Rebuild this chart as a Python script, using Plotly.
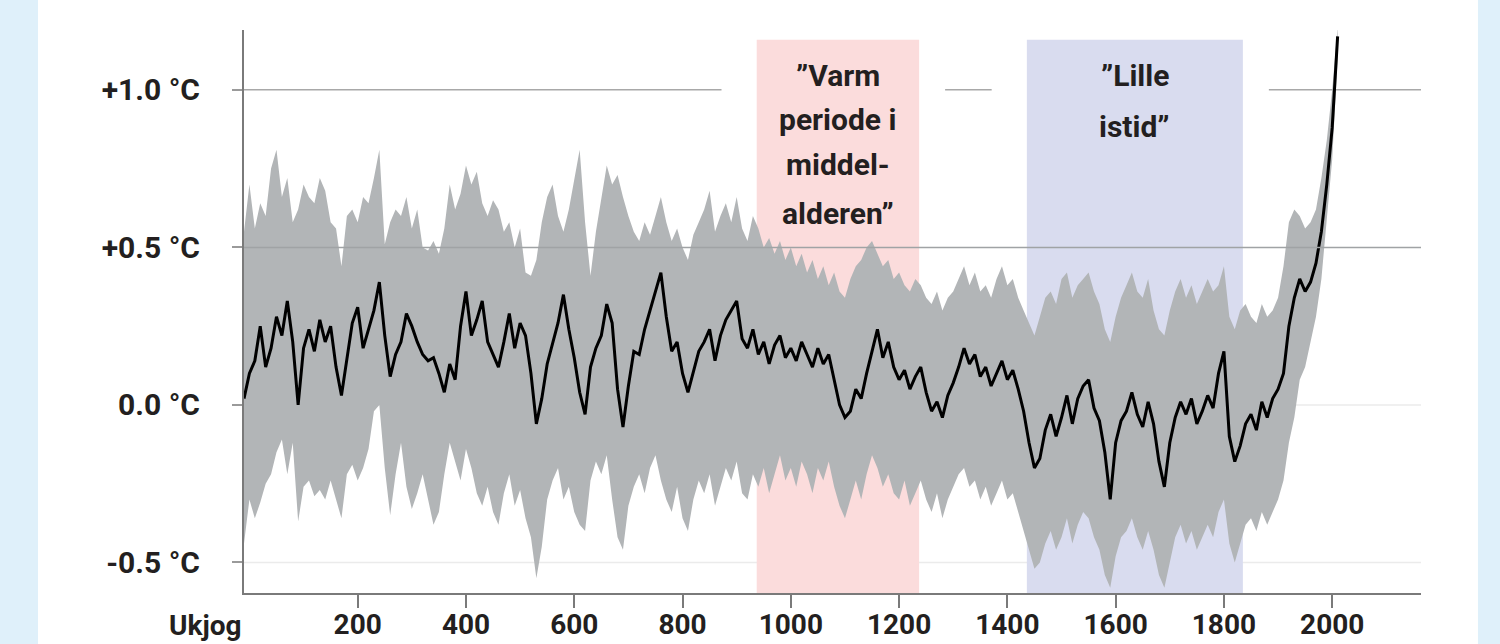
import plotly.graph_objects as go

# ---------------- data ----------------
years = list(range(-10, 2011, 10))

mean_temp = [
    0.02, 0.10, 0.14, 0.25, 0.12, 0.18, 0.28, 0.22, 0.33, 0.20,
    0.00, 0.18, 0.24, 0.17, 0.27, 0.20, 0.25, 0.12, 0.03, 0.15,
    0.26, 0.31, 0.18, 0.24, 0.30, 0.39, 0.22, 0.09, 0.16, 0.20,
    0.29, 0.25, 0.20, 0.16, 0.14, 0.15, 0.10, 0.04, 0.13, 0.08,
    0.25, 0.36, 0.22, 0.27, 0.33, 0.20, 0.16, 0.12, 0.20, 0.29,
    0.18, 0.26, 0.22, 0.10, -0.06, 0.02, 0.13, 0.20, 0.26, 0.35,
    0.24, 0.15, 0.04, -0.03, 0.12, 0.18, 0.22, 0.32, 0.26, 0.05,
    -0.07, 0.06, 0.17, 0.16, 0.24, 0.30, 0.36, 0.42, 0.28, 0.17,
    0.20, 0.10, 0.04, 0.11, 0.17, 0.20, 0.24, 0.14, 0.22, 0.27,
    0.30, 0.33, 0.21, 0.18, 0.24, 0.16, 0.20, 0.13, 0.19, 0.22,
    0.15, 0.18, 0.14, 0.20, 0.16, 0.12, 0.18, 0.13, 0.16, 0.08,
    0.00, -0.04, -0.02, 0.05, 0.02, 0.10, 0.17, 0.24, 0.15, 0.20,
    0.12, 0.08, 0.11, 0.05, 0.09, 0.12, 0.04, -0.02, 0.01, -0.04,
    0.03, 0.07, 0.12, 0.18, 0.13, 0.16, 0.09, 0.12, 0.06, 0.10,
    0.14, 0.08, 0.11, 0.05, -0.02, -0.12, -0.20, -0.17, -0.08, -0.03,
    -0.10, -0.04, 0.03, -0.06, 0.02, 0.06, 0.08, -0.01, -0.05, -0.15,
    -0.30, -0.12, -0.05, -0.02, 0.04, -0.03, -0.07, 0.01, -0.06, -0.18,
    -0.26, -0.12, -0.04, 0.01, -0.03, 0.02, -0.06, -0.02, 0.03, -0.01,
    0.10, 0.17, -0.10, -0.18, -0.13, -0.06, -0.03, -0.08, 0.01, -0.04,
    0.02, 0.05, 0.10, 0.25, 0.34, 0.40, 0.36, 0.39, 0.45, 0.55,
    0.70, 0.88, 1.17,
]

upper_bound = [
    0.55, 0.70, 0.56, 0.64, 0.60, 0.75, 0.81, 0.66, 0.72, 0.58,
    0.62, 0.70, 0.66, 0.64, 0.72, 0.68, 0.58, 0.56, 0.44, 0.60,
    0.62, 0.58, 0.66, 0.64, 0.72, 0.81, 0.51, 0.58, 0.62, 0.60,
    0.66, 0.56, 0.62, 0.50, 0.49, 0.52, 0.48, 0.56, 0.70, 0.62,
    0.67, 0.76, 0.70, 0.74, 0.64, 0.60, 0.65, 0.62, 0.55, 0.58,
    0.50, 0.56, 0.42, 0.41, 0.46, 0.58, 0.66, 0.70, 0.60, 0.55,
    0.62, 0.72, 0.81, 0.58, 0.41, 0.55, 0.65, 0.76, 0.70, 0.73,
    0.66, 0.60, 0.55, 0.52, 0.58, 0.54, 0.60, 0.66, 0.58, 0.52,
    0.56, 0.50, 0.46, 0.54, 0.58, 0.62, 0.68, 0.55, 0.60, 0.64,
    0.58, 0.66, 0.56, 0.52, 0.60, 0.56, 0.50, 0.53, 0.48, 0.52,
    0.46, 0.50, 0.44, 0.48, 0.42, 0.46, 0.40, 0.44, 0.38, 0.42,
    0.36, 0.34, 0.40, 0.44, 0.46, 0.50, 0.52, 0.48, 0.44, 0.46,
    0.40, 0.42, 0.38, 0.36, 0.40, 0.38, 0.34, 0.32, 0.36, 0.30,
    0.34, 0.36, 0.40, 0.44, 0.38, 0.42, 0.36, 0.38, 0.34, 0.40,
    0.44, 0.38, 0.40, 0.34, 0.30, 0.26, 0.22, 0.28, 0.34, 0.36,
    0.32, 0.40, 0.42, 0.34, 0.38, 0.40, 0.42, 0.36, 0.32, 0.24,
    0.20, 0.28, 0.34, 0.38, 0.42, 0.36, 0.34, 0.40, 0.30, 0.24,
    0.22, 0.30, 0.36, 0.40, 0.34, 0.38, 0.32, 0.36, 0.40, 0.36,
    0.38, 0.44, 0.28, 0.24, 0.30, 0.32, 0.28, 0.26, 0.32, 0.28,
    0.30, 0.34, 0.44, 0.58, 0.62, 0.60, 0.56, 0.58, 0.62, 0.72,
    0.84, 1.00, 1.20,
]

lower_bound = [
    -0.44, -0.30, -0.36, -0.31, -0.25, -0.22, -0.15, -0.11, -0.22, -0.12,
    -0.37, -0.26, -0.24, -0.29, -0.27, -0.30, -0.24, -0.30, -0.36, -0.22,
    -0.19, -0.24, -0.20, -0.14, -0.02, 0.00, -0.20, -0.35, -0.22, -0.12,
    -0.26, -0.33, -0.28, -0.22, -0.30, -0.38, -0.34, -0.22, -0.12, -0.18,
    -0.24, -0.14, -0.20, -0.28, -0.32, -0.26, -0.34, -0.38, -0.28, -0.22,
    -0.32, -0.27, -0.36, -0.42, -0.55, -0.45, -0.30, -0.24, -0.20, -0.30,
    -0.26, -0.34, -0.38, -0.40, -0.24, -0.18, -0.22, -0.16, -0.30, -0.42,
    -0.46, -0.32, -0.26, -0.22, -0.28, -0.20, -0.16, -0.24, -0.30, -0.34,
    -0.26, -0.36, -0.40, -0.30, -0.24, -0.28, -0.22, -0.32, -0.26, -0.20,
    -0.24, -0.18, -0.28, -0.30, -0.22, -0.26, -0.20, -0.28, -0.22, -0.16,
    -0.24, -0.20, -0.26, -0.18, -0.22, -0.28, -0.20, -0.24, -0.18, -0.26,
    -0.32, -0.36, -0.30, -0.24, -0.30, -0.22, -0.16, -0.20, -0.26, -0.22,
    -0.28, -0.30, -0.24, -0.32, -0.28, -0.24, -0.30, -0.34, -0.28, -0.36,
    -0.30, -0.26, -0.22, -0.20, -0.26, -0.24, -0.30, -0.26, -0.32, -0.28,
    -0.24, -0.30, -0.28, -0.34, -0.40, -0.46, -0.52, -0.50, -0.44, -0.40,
    -0.46, -0.42, -0.36, -0.44, -0.38, -0.34, -0.36, -0.42, -0.46, -0.54,
    -0.58, -0.48, -0.42, -0.40, -0.36, -0.42, -0.46, -0.40, -0.46, -0.54,
    -0.58, -0.50, -0.42, -0.38, -0.44, -0.40, -0.46, -0.42, -0.38, -0.42,
    -0.34, -0.30, -0.44, -0.50, -0.44, -0.38, -0.36, -0.40, -0.34, -0.38,
    -0.34, -0.30, -0.24, -0.12, -0.04, 0.08, 0.12, 0.20, 0.28, 0.40,
    0.58, 0.78, 1.10,
]

y_tick_vals = [-0.5, 0.0, 0.5, 1.0]
y_tick_text = ["-0.5 °C", "0.0 °C", "+0.5 °C", "+1.0 °C"]
x_tick_vals = [200, 400, 600, 800, 1000, 1200, 1400, 1600, 1800, 2000]
x_tick_text = [str(v) for v in x_tick_vals]
x_start_label = "Ukjog"

warm_period = [937, 1237]     # "Varm periode i middelalderen"
cold_period = [1436, 1835]    # "Lille istid"
warm_lines = ["”Varm", "periode i", "middel-", "alderen”"]
cold_lines = ["”Lille", "istid”"]

# ---------------- styling ----------------
FONT = "Roboto, Liberation Sans, sans-serif"
FS = 30
FSX = 28
TXT = "#231f20"
X_RANGE = [-10, 2164]
Y_RANGE = [-0.597, 1.19]

fig = go.Figure()
fig.add_trace(go.Scatter(x=years, y=lower_bound, mode="lines", line=dict(width=0),
                         hoverinfo="skip", showlegend=False))
fig.add_trace(go.Scatter(x=years, y=upper_bound, mode="lines", line=dict(width=0),
                         fill="tonexty", fillcolor="#b2b5b7", hoverinfo="skip", showlegend=False))
fig.add_trace(go.Scatter(x=years, y=mean_temp, mode="lines",
                         line=dict(color="#000000", width=3), showlegend=False))

shapes = []
shapes.append(dict(type="rect", xref="paper", yref="paper", x0=-0.175, x1=1.0484, y0=-0.3, y1=1.3,
                   fillcolor="white", line=dict(width=0), layer="below"))
for v in [y_tick_vals[0], y_tick_vals[1]]:
    shapes.append(dict(type="line", xref="paper", yref="y", x0=0, x1=1, y0=v, y1=v,
                       line=dict(color="#ebebeb", width=1.5), layer="below"))
shapes.append(dict(type="line", xref="paper", yref="y", x0=0, x1=1, y0=y_tick_vals[3], y1=y_tick_vals[3],
                   line=dict(color="#a8a8a8", width=1.5), layer="below"))
for p in (warm_period, cold_period):
    shapes.append(dict(type="rect", xref="x", yref="y", x0=p[0] - 65, x1=p[1] + 48, y0=0.9, y1=Y_RANGE[1],
                       fillcolor="white", line=dict(width=0), layer="below"))
shapes.append(dict(type="rect", xref="x", yref="y", x0=warm_period[0], x1=warm_period[1],
                   y0=Y_RANGE[0], y1=1.159, fillcolor="#fbdcdc", line=dict(width=0), layer="below"))
shapes.append(dict(type="rect", xref="x", yref="y", x0=cold_period[0], x1=cold_period[1],
                   y0=Y_RANGE[0], y1=1.159, fillcolor="#d9dcef", line=dict(width=0), layer="below"))
shapes.append(dict(type="line", xref="paper", yref="y", x0=0, x1=1, y0=y_tick_vals[2], y1=y_tick_vals[2],
                   line=dict(color="#a0a3a5", width=1.5), layer="above"))

annotations = []
warm_c = (warm_period[0] + warm_period[1]) / 2
cold_c = (cold_period[0] + cold_period[1]) / 2
warm_y = [1.047, 0.905, 0.762, 0.608]
cold_y = [1.047, 0.884]
afont = dict(family=FONT, size=FS, color=TXT, weight="bold")
for t, yy in zip(warm_lines, warm_y):
    annotations.append(dict(x=warm_c, y=yy, xref="x", yref="y", text=t, showarrow=False,
                            font=afont, xanchor="center", yanchor="middle"))
for t, yy in zip(cold_lines, cold_y):
    annotations.append(dict(x=cold_c, y=yy, xref="x", yref="y", text=t, showarrow=False,
                            font=afont, xanchor="center", yanchor="middle"))
annotations.append(dict(x=-0.0323, y=-0.057, xref="paper", yref="paper", text=x_start_label,
                        showarrow=False, font=dict(family=FONT, size=FSX, color=TXT, weight="bold"),
                        xanchor="center", yanchor="middle"))

fig.update_layout(
    width=1500, height=644,
    margin=dict(l=244, r=79, t=30, b=51, autoexpand=False),
    paper_bgcolor="#dff0fa",
    plot_bgcolor="rgba(0,0,0,0)",
    shapes=shapes,
    annotations=annotations,
    showlegend=False,
    xaxis=dict(range=X_RANGE, showgrid=False, zeroline=False, automargin=False,
               showline=True, linecolor="#7a7a7a", linewidth=2,
               ticks="outside", ticklen=13, tickwidth=2, tickcolor="#7a7a7a",
               tickvals=x_tick_vals, ticktext=x_tick_text, ticklabelstandoff=-8,
               tickfont=dict(family=FONT, size=FSX, color=TXT, weight="bold")),
    yaxis=dict(range=Y_RANGE, showgrid=False, zeroline=False, automargin=False,
               showline=True, linecolor="#7a7a7a", linewidth=2,
               ticks="outside", ticklen=10, tickwidth=1.5, tickcolor="#9a9a9a",
               tickvals=y_tick_vals, ticktext=y_tick_text, ticklabelstandoff=26,
               tickfont=dict(family=FONT, size=FS, color=TXT, weight="bold")),
)

fig.write_html("out.html", config={"displayModeBar": False},
               post_script="document.body.style.margin='0px';")
